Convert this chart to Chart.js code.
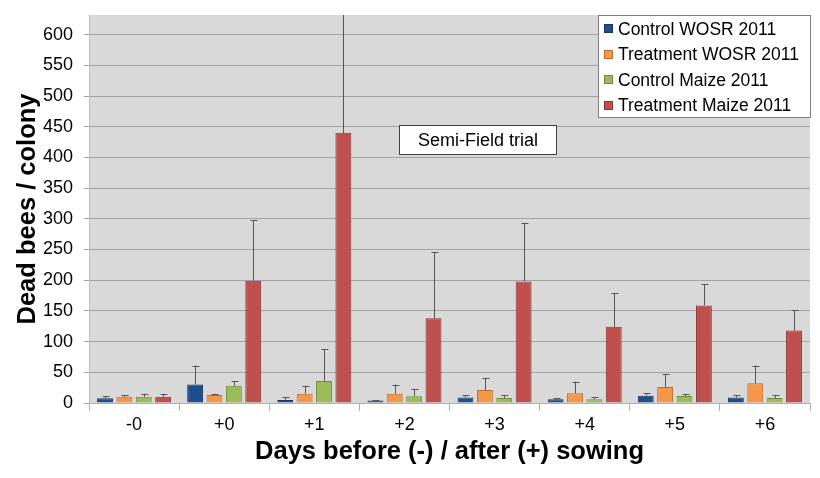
<!DOCTYPE html>
<html>
<head>
<meta charset="utf-8">
<script src="https://cdn.jsdelivr.net/npm/chart.js@4.4.1/dist/chart.umd.min.js"></script>
<style>
  html, body { margin: 0; padding: 0; background: #fff; }
  #wrap { width: 820px; height: 478px; }
</style>
</head>
<body>
<div id="wrap"><canvas id="chart" width="820" height="478"></canvas></div>
<script>
// categories
const days = ["-0", "+0", "+1", "+2", "+3", "+4", "+5", "+6"];

// mean dead bees per colony
const controlWosr   = [7.6, 30, 5, 4, 9, 6, 12, 9];
const treatmentWosr = [10, 13, 15, 15, 21, 16, 26, 32];
const controlMaize  = [10, 28, 36, 11, 8, 6, 11.5, 8];
const treatmentMaize = [10, 199, 440, 138, 198, 124, 159, 118];

// upper error (+)
const controlWosrErr   = [3.5, 31, 4, 1, 4, 2, 4, 3.5];
const treatmentWosrErr = [3, 2, 13, 15, 20, 19, 21, 29];
const controlMaizeErr  = [5, 8, 51.5, 12, 4.5, 3, 2.5, 5];
const treatmentMaizeErr = [5, 99, 260, 108, 95, 55, 35, 33];

const yTicks = [0, 50, 100, 150, 200, 250, 300, 350, 400, 450, 500, 550, 600];

const FONT = "'Liberation Sans', Arial, sans-serif";

const series = [
  { label: "Control WOSR 2011",    data: controlWosr,    err: controlWosrErr,    fill: "#1f4e8c", line: "#16365f" },
  { label: "Treatment WOSR 2011",  data: treatmentWosr,  err: treatmentWosrErr,  fill: "#f79646", line: "#b86c30" },
  { label: "Control Maize 2011",   data: controlMaize,   err: controlMaizeErr,   fill: "#9bbb59", line: "#6f8a3c" },
  { label: "Treatment Maize 2011", data: treatmentMaize, err: treatmentMaizeErr, fill: "#c0504d", line: "#8a3533" }
];

const plotBg = {
  id: "plotBg",
  beforeDraw(chart) {
    const { ctx, chartArea: a } = chart;
    ctx.save();
    ctx.fillStyle = "#fff";
    ctx.fillRect(0, 0, chart.width, chart.height);
    ctx.fillStyle = "#d9d9d9";
    ctx.fillRect(a.left, a.top, a.right - a.left, a.bottom - a.top);
    ctx.restore();
  }
};

const errorBars = {
  id: "errorBars",
  afterDatasetsDraw(chart) {
    const { ctx, chartArea: a } = chart;
    const y = chart.scales.y;
    ctx.save();
    ctx.beginPath();
    ctx.rect(a.left, a.top, a.right - a.left, a.bottom - a.top);
    ctx.clip();
    ctx.strokeStyle = "#555";
    ctx.lineWidth = 1;
    chart.data.datasets.forEach((ds, i) => {
      const meta = chart.getDatasetMeta(i);
      meta.data.forEach((bar, j) => {
        const v = ds.data[j];
        const e = ds.errPlus[j];
        const x = Math.round(bar.x) + 0.5;
        const y0 = y.getPixelForValue(v);
        const y1 = y.getPixelForValue(v + e);
        ctx.beginPath();
        ctx.moveTo(x, y0);
        ctx.lineTo(x, y1);
        ctx.moveTo(x - 3, Math.round(y1) + 0.5);
        ctx.lineTo(x + 4, Math.round(y1) + 0.5);
        ctx.stroke();
      });
    });
    ctx.restore();
  }
};

const overlay = {
  id: "overlay",
  afterDraw(chart) {
    const { ctx } = chart;
    ctx.save();
    // legend
    ctx.fillStyle = "#fff";
    ctx.fillRect(598.5, 15.5, 212, 102);
    ctx.strokeStyle = "#7f7f7f";
    ctx.lineWidth = 1;
    ctx.strokeRect(598.5, 15.5, 212, 102);
    ctx.font = "17.5px " + FONT;
    ctx.textBaseline = "middle";
    ctx.textAlign = "left";
    chart.data.datasets.forEach((ds, i) => {
      const cy = 29 + i * 25.5;
      ctx.fillStyle = ds.backgroundColor;
      ctx.fillRect(604.5, Math.round(cy) - 4.5, 8, 8);
      ctx.strokeStyle = ds.borderColor;
      ctx.strokeRect(604.5, Math.round(cy) - 4.5, 8, 8);
      ctx.fillStyle = "#000";
      ctx.fillText(ds.label, 618, cy + 1);
    });
    // annotation
    ctx.fillStyle = "#fff";
    ctx.fillRect(399.5, 125.5, 157, 29);
    ctx.strokeStyle = "#404040";
    ctx.strokeRect(399.5, 125.5, 157, 29);
    ctx.fillStyle = "#000";
    ctx.font = "18px " + FONT;
    ctx.textAlign = "center";
    ctx.fillText("Semi-Field trial", 478, 141);
    ctx.restore();
  }
};

new Chart(document.getElementById("chart"), {
  type: "bar",
  data: {
    labels: days,
    datasets: series.map(s => ({
      label: s.label,
      data: s.data,
      errPlus: s.err,
      backgroundColor: s.fill,
      borderColor: s.line,
      borderWidth: 1,
      categoryPercentage: 0.86,
      barPercentage: 0.82
    }))
  },
  options: {
    responsive: false,
    animation: false,
    devicePixelRatio: 1,
    layout: { padding: { top: 15, right: 10, left: 0, bottom: 0 } },
    plugins: {
      legend: { display: false },
      tooltip: { enabled: false }
    },
    scales: {
      x: {
        afterFit(s) { s.height = 75; s.paddingLeft = 0; s.paddingRight = 0; },
        grid: { offset: true, drawOnChartArea: false, tickLength: 8, color: "#b0b0b0" },
        border: { color: "#b0b0b0" },
        ticks: { color: "#000", padding: 3, font: { family: FONT, size: 18 } },
        title: {
          display: true,
          text: "Days before (-) / after (+) sowing",
          color: "#000",
          font: { family: FONT, size: 25.5, weight: "bold" },
          padding: { top: 0, bottom: 11 }
        }
      },
      y: {
        min: 0,
        max: 632,
        afterFit(s) { s.width = 89; s.paddingTop = 0; s.paddingBottom = 0; },
        afterBuildTicks(s) { s.ticks = yTicks.map(v => ({ value: v })); },
        grid: { color: "#a3a3a3", tickLength: 5, tickColor: "#a3a3a3" },
        border: { color: "#bdbdbd" },
        ticks: { color: "#000", padding: 11, font: { family: FONT, size: 18 } },
        title: {
          display: true,
          text: "Dead bees / colony",
          color: "#000",
          font: { family: FONT, size: 25.5, weight: "bold" },
          padding: { top: 13, bottom: 0 }
        }
      }
    }
  },
  plugins: [plotBg, errorBars, overlay]
});
</script>
</body>
</html>
